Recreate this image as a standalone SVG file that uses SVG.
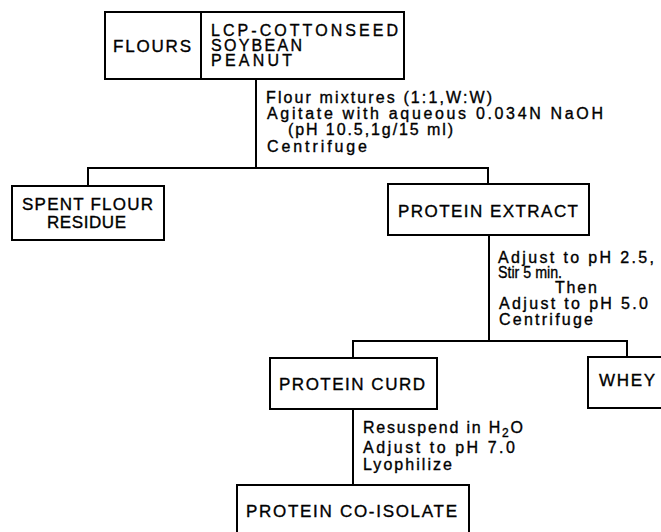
<svg xmlns="http://www.w3.org/2000/svg" width="661" height="532" viewBox="0 0 661 532">
<style>
.box{fill:#fff;stroke:#000;stroke-width:2}
.ln{fill:none;stroke:#000;stroke-width:2}
text{font-family:"Liberation Sans",Arial,sans-serif;fill:#000;stroke:#000;stroke-width:0.35}
.t{font-size:17px}
.s{font-size:16px}
</style>
<rect width="661" height="532" fill="#fff" stroke="none"/>
<g id="connectors">
<path class="ln" d="M256 79V168M88 186V168H488V184M489 235V341M353 358V341H627V357M353 409V485"/>
<g id="step1">
<text class="s" x="266" y="103" textLength="226">Flour mixtures (1:1,W:W)</text>
<text class="s" x="267" y="119" textLength="336">Agitate with aqueous 0.034N NaOH</text>
<text class="s" x="288" y="135" textLength="165">(pH 10.5,1g/15 ml)</text>
<text class="s" x="267" y="152" textLength="100">Centrifuge</text>
</g>
<g id="step2">
<text class="s" x="498" y="263" textLength="156">Adjust to pH 2.5,</text>
<text class="s" x="498" y="278" textLength="64" lengthAdjust="spacingAndGlyphs">Stir 5 min.</text>
<text class="s" x="555" y="293" textLength="42">Then</text>
<text class="s" x="499" y="309" textLength="149">Adjust to pH 5.0</text>
<text class="s" x="499" y="325" textLength="94">Centrifuge</text>
</g>
<g id="step3">
<text class="s" x="363" y="433" letter-spacing="1.8">Resuspend in H<tspan dy="4" font-size="12">2</tspan><tspan dy="-4">O</tspan></text>
<text class="s" x="363" y="453" textLength="152">Adjust to pH 7.0</text>
<text class="s" x="363" y="470" textLength="89">Lyophilize</text>
</g>
</g>
<g id="flours">
<rect class="box" x="105" y="12" width="96" height="67"/>
<text class="t" x="113" y="52" textLength="78">FLOURS</text>
</g>
<g id="flour-types">
<rect class="box" x="201" y="12" width="203" height="67"/>
<text class="s" x="211" y="36" textLength="187">LCP-COTTONSEED</text>
<text class="s" x="211" y="51" textLength="91">SOYBEAN</text>
<text class="s" x="211" y="66" textLength="81">PEANUT</text>
</g>
<g id="spent-flour-residue">
<rect class="box" x="12" y="186" width="152" height="54"/>
<text class="t" x="22" y="210" textLength="131">SPENT FLOUR</text>
<text class="t" x="47" y="228" textLength="79">RESIDUE</text>
</g>
<g id="protein-extract">
<rect class="box" x="388" y="184" width="201" height="51"/>
<text class="t" x="398" y="217" textLength="180">PROTEIN EXTRACT</text>
</g>
<g id="protein-curd">
<rect class="box" x="270" y="358" width="167" height="51"/>
<text class="t" x="279" y="390" textLength="146">PROTEIN CURD</text>
</g>
<g id="whey">
<rect class="box" x="588" y="357" width="90" height="51"/>
<text class="t" x="599" y="386" textLength="56">WHEY</text>
</g>
<g id="protein-co-isolate">
<rect class="box" x="237" y="485" width="232" height="60"/>
<text class="t" x="246" y="517" textLength="211">PROTEIN CO-ISOLATE</text>
</g>
</svg>
